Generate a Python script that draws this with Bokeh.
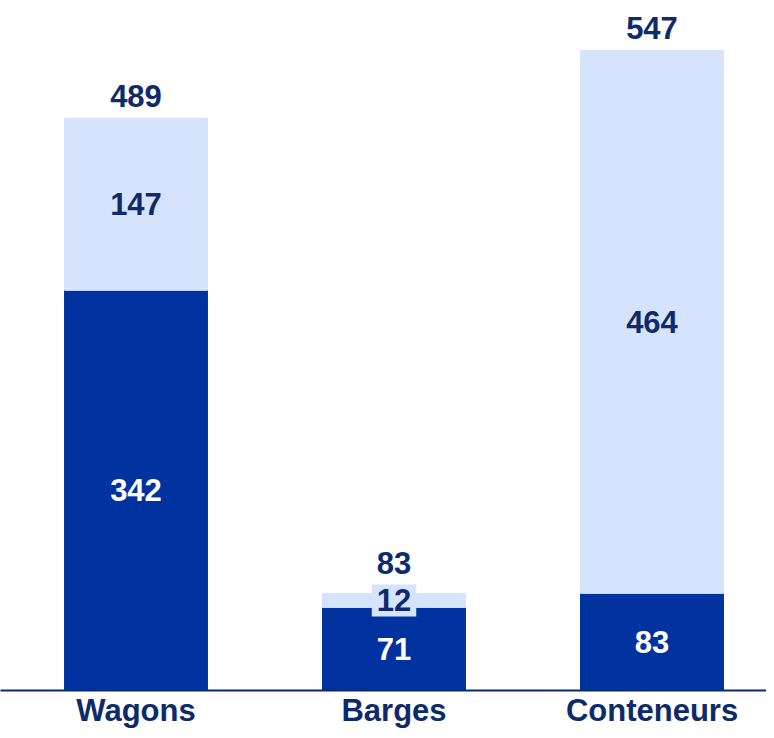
from bokeh.plotting import figure
from bokeh.models import ColumnDataSource, Range1d, LabelSet, FixedTicker
from bokeh.core.properties import value
from bokeh.embed import file_html
from bokeh.resources import INLINE

categories = ["Wagons", "Barges", "Conteneurs"]
dark_values = [342, 71, 83]
light_values = [147, 12, 464]
totals = [489, 83, 547]

DARK = "#0033A0"
LIGHT = "#D6E3FD"
NAVY = "#0E2A6B"
FONT = "Arial"
FS = "31px"

xs = list(range(len(categories)))
tops = [d + l for d, l in zip(dark_values, light_values)]
src = ColumnDataSource(dict(
    x=xs,
    dark=dark_values,
    light=light_values,
    top=tops,
    total=totals,
    dark_mid=[d / 2 for d in dark_values],
    light_mid=[d + l / 2 for d, l in zip(dark_values, light_values)],
    dark_txt=[str(v) for v in dark_values],
    light_txt=[str(v) for v in light_values],
    total_txt=[str(v) for v in totals],
    tot_off=[11 if t > 200 else 19 for t in totals],
))

p = figure(width=766, height=730, output_backend="svg", toolbar_location=None,
           x_range=Range1d(-0.5252, 2.4438), y_range=Range1d(0, 589.7),
           min_border_left=0, min_border_right=0, min_border_top=0, min_border_bottom=40)

p.vbar(x="x", top="dark", bottom=0, width=0.554, color=DARK, source=src)
p.vbar(x="x", top="top", bottom="dark", width=0.554, color=LIGHT, source=src)

lbl = dict(source=src, text_align="center", text_font=value(FONT),
           text_font_size=value(FS), text_font_style="bold")
p.add_layout(LabelSet(x="x", y="dark_mid", text="dark_txt",
                      text_baseline="middle", text_color="white", **lbl))
p.add_layout(LabelSet(x="x", y="light_mid", text="light_txt",
                      text_baseline="middle", text_color=NAVY,
                      background_fill_color=LIGHT,
                      border_line_color=LIGHT, border_line_width=10,
                      border_line_join="miter", **lbl))
p.add_layout(LabelSet(x="x", y="total", text="total_txt", y_offset="tot_off",
                      text_baseline="alphabetic", text_color=NAVY, **lbl))

p.yaxis.visible = False
p.xgrid.visible = False
p.ygrid.visible = False
p.outline_line_color = None

ax = p.xaxis[0]
ax.ticker = FixedTicker(ticks=xs)
ax.major_label_overrides = {i: c for i, c in zip(xs, categories)}
ax.major_tick_line_color = None
ax.major_tick_out = 0
ax.minor_tick_line_color = None
ax.axis_line_color = NAVY
ax.axis_line_width = 2
ax.major_label_text_font = FONT
ax.major_label_text_font_size = FS
ax.major_label_text_font_style = "bold"
ax.major_label_text_color = NAVY
ax.major_label_standoff = 2

open("out.html", "w").write(file_html(p, INLINE))
